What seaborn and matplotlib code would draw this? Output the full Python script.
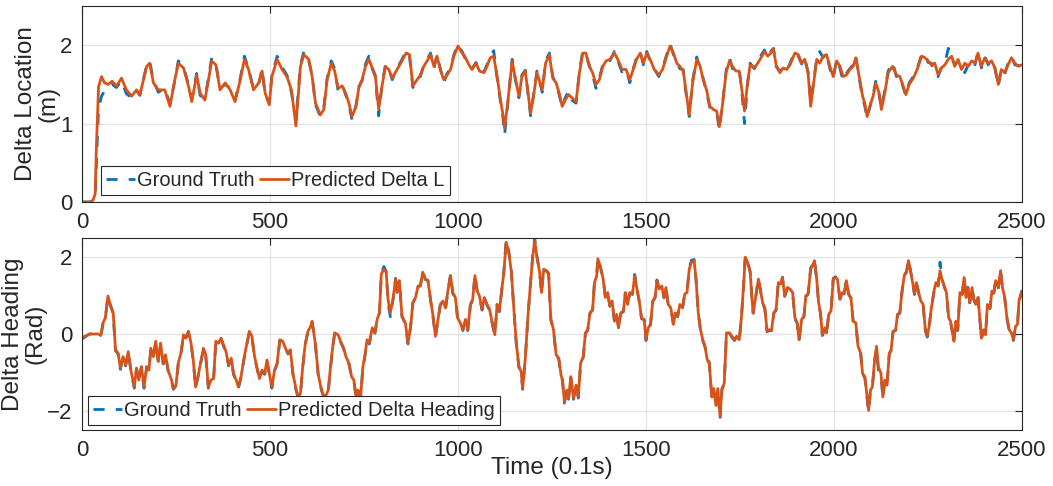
import numpy as np
import pandas as pd
import matplotlib
matplotlib.use("Agg")
import matplotlib.pyplot as plt
import seaborn as sns

# ---------------- data ----------------
loc_t = [0, 20, 29, 35, 38, 44, 52, 60, 70, 80, 92, 105, 118, 132, 145, 154, 172, 180, 190, 203,
         220, 234, 247, 256, 270, 283, 292, 305, 314, 327, 345, 356, 367, 381, 394, 407, 421, 432, 443, 456,
         470, 479, 487, 498, 505, 519, 532, 545, 557, 569, 581, 590, 603, 612, 621, 634, 643, 652, 663, 672,
         681, 692, 701, 710, 718, 729, 736, 745, 754, 763, 772, 780, 789, 798, 807, 816, 825, 838, 851, 862,
         871, 880, 891, 900, 909, 918, 927, 936, 944, 953, 962, 971, 980, 989, 1000, 1011, 1020, 1029, 1037, 1048,
         1057, 1069, 1077, 1086, 1095, 1104, 1113, 1119, 1124, 1133, 1144, 1153, 1162, 1170, 1179, 1193, 1202, 1210, 1224, 1233,
         1243, 1252, 1261, 1269, 1277, 1285, 1294, 1303, 1314, 1323, 1332, 1340, 1349, 1358, 1367, 1376, 1385, 1394, 1404, 1416,
         1425, 1436, 1447, 1457, 1466, 1475, 1485, 1493, 1502, 1511, 1522, 1534, 1544, 1555, 1564, 1573, 1582, 1590, 1599, 1606,
         1615, 1624, 1635, 1644, 1652, 1661, 1670, 1679, 1688, 1695, 1704, 1713, 1722, 1730, 1739, 1748, 1755, 1762, 1770, 1777,
         1788, 1797, 1806, 1815, 1824, 1832, 1839, 1846, 1856, 1865, 1874, 1883, 1896, 1905, 1914, 1922, 1931, 1938, 1945, 1954,
         1962, 1971, 1980, 1989, 1998, 2007, 2016, 2024, 2033, 2042, 2051, 2058, 2067, 2076, 2082, 2088, 2095, 2104, 2111, 2120,
         2126, 2135, 2144, 2156, 2166, 2175, 2184, 2191, 2200, 2211, 2221, 2233, 2242, 2250, 2259, 2268, 2277, 2286, 2295, 2304,
         2313, 2321, 2330, 2339, 2348, 2357, 2366, 2375, 2383, 2392, 2401, 2410, 2419, 2428, 2437, 2445, 2454, 2463, 2472, 2481,
         2490, 2500]
loc_pred = [0.00, 0.00, 0.02, 0.10, 0.66, 1.47, 1.60, 1.52, 1.50, 1.54, 1.48, 1.58, 1.43, 1.35, 1.43, 1.37, 1.73, 1.77, 1.52, 1.43,
            1.43, 1.22, 1.56, 1.77, 1.71, 1.48, 1.28, 1.62, 1.39, 1.30, 1.80, 1.75, 1.43, 1.52, 1.43, 1.28, 1.56, 1.82, 1.69, 1.43,
            1.52, 1.67, 1.39, 1.24, 1.60, 1.82, 1.69, 1.60, 1.43, 0.97, 1.73, 1.88, 1.82, 1.60, 1.26, 1.11, 1.18, 1.56, 1.77, 1.67,
            1.45, 1.48, 1.39, 1.26, 1.09, 1.22, 1.45, 1.56, 1.73, 1.82, 1.71, 1.62, 1.18, 1.48, 1.73, 1.69, 1.58, 1.69, 1.80, 1.90,
            1.88, 1.48, 1.56, 1.62, 1.73, 1.80, 1.88, 1.73, 1.86, 1.69, 1.56, 1.62, 1.69, 1.86, 1.99, 1.90, 1.84, 1.75, 1.69, 1.77,
            1.67, 1.65, 1.73, 1.84, 1.86, 1.60, 1.30, 1.13, 0.94, 1.30, 1.80, 1.56, 1.35, 1.60, 1.67, 1.13, 1.39, 1.65, 1.43, 1.77,
            1.88, 1.58, 1.52, 1.39, 1.22, 1.30, 1.37, 1.33, 1.28, 1.65, 1.90, 1.90, 1.73, 1.65, 1.50, 1.56, 1.73, 1.80, 1.82, 1.90,
            1.82, 1.69, 1.69, 1.56, 1.69, 1.82, 1.90, 1.77, 1.90, 1.82, 1.69, 1.62, 1.69, 1.86, 1.99, 1.90, 1.77, 1.73, 1.67, 1.43,
            1.11, 1.52, 1.82, 1.73, 1.56, 1.43, 1.22, 1.18, 1.16, 0.96, 1.26, 1.65, 1.80, 1.73, 1.67, 1.67, 1.43, 1.16, 1.52, 1.75,
            1.71, 1.77, 1.84, 1.92, 1.86, 1.90, 1.95, 1.75, 1.65, 1.71, 1.69, 1.75, 1.90, 1.88, 1.77, 1.82, 1.65, 1.22, 1.48, 1.82,
            1.77, 1.86, 1.88, 1.73, 1.60, 1.80, 1.73, 1.60, 1.62, 1.69, 1.73, 1.84, 1.60, 1.35, 1.26, 1.09, 1.22, 1.35, 1.52, 1.39,
            1.18, 1.39, 1.65, 1.73, 1.62, 1.60, 1.48, 1.37, 1.50, 1.58, 1.69, 1.86, 1.84, 1.80, 1.75, 1.77, 1.62, 1.71, 1.75, 1.82,
            1.86, 1.73, 1.82, 1.69, 1.77, 1.73, 1.80, 1.77, 1.90, 1.73, 1.84, 1.77, 1.80, 1.71, 1.50, 1.69, 1.65, 1.75, 1.84, 1.77,
            1.73, 1.75]
loc_gt = [0.00, 0.00, 0.00, 0.05, 0.45, 1.20, 1.35, 1.42, 1.45, 1.50, 1.46, 1.55, 1.38, 1.33, 1.42, 1.36, 1.75, 1.80, 1.55, 1.40,
          1.45, 1.25, 1.55, 1.80, 1.73, 1.50, 1.32, 1.64, 1.36, 1.32, 1.84, 1.77, 1.45, 1.50, 1.45, 1.30, 1.58, 1.86, 1.70, 1.45,
          1.50, 1.70, 1.37, 1.26, 1.62, 1.86, 1.72, 1.62, 1.40, 1.05, 1.75, 1.92, 1.80, 1.62, 1.24, 1.09, 1.20, 1.58, 1.80, 1.70,
          1.42, 1.50, 1.37, 1.24, 1.05, 1.24, 1.47, 1.55, 1.76, 1.86, 1.70, 1.60, 1.10, 1.50, 1.75, 1.70, 1.56, 1.70, 1.82, 1.93,
          1.86, 1.46, 1.58, 1.60, 1.75, 1.82, 1.90, 1.70, 1.88, 1.70, 1.52, 1.64, 1.70, 1.88, 2.01, 1.92, 1.82, 1.77, 1.70, 1.78,
          1.65, 1.66, 1.75, 1.86, 1.93, 1.58, 1.28, 1.10, 0.86, 1.28, 1.82, 1.55, 1.33, 1.62, 1.68, 1.10, 1.40, 1.67, 1.40, 1.80,
          1.90, 1.60, 1.50, 1.37, 1.20, 1.33, 1.41, 1.30, 1.26, 1.67, 1.93, 1.88, 1.75, 1.62, 1.45, 1.58, 1.75, 1.82, 1.80, 1.92,
          1.80, 1.66, 1.70, 1.52, 1.70, 1.84, 1.92, 1.75, 1.92, 1.80, 1.70, 1.60, 1.71, 1.88, 2.02, 1.88, 1.78, 1.70, 1.69, 1.40,
          1.09, 1.55, 1.85, 1.70, 1.58, 1.40, 1.20, 1.16, 1.14, 0.92, 1.28, 1.67, 1.84, 1.70, 1.65, 1.69, 1.40, 1.00, 1.50, 1.77,
          1.70, 1.79, 1.87, 1.94, 1.84, 1.92, 1.96, 1.73, 1.66, 1.72, 1.67, 1.77, 1.92, 1.86, 1.76, 1.84, 1.66, 1.28, 1.50, 1.84,
          1.92, 1.84, 1.90, 1.70, 1.58, 1.82, 1.70, 1.55, 1.64, 1.70, 1.75, 1.86, 1.58, 1.33, 1.22, 1.07, 1.20, 1.37, 1.54, 1.37,
          1.20, 1.42, 1.67, 1.78, 1.60, 1.62, 1.46, 1.36, 1.52, 1.60, 1.70, 1.88, 1.90, 1.78, 1.77, 1.62, 1.60, 1.73, 1.77, 1.96,
          1.84, 1.75, 1.80, 1.71, 1.65, 1.75, 1.82, 1.75, 1.92, 1.71, 1.86, 1.75, 1.82, 1.70, 1.48, 1.70, 1.63, 1.77, 1.86, 1.75,
          1.74, 1.76]

head_t = [0, 12, 20, 43, 50, 56, 62, 69, 76, 83, 89, 96, 102, 109, 116, 123, 130, 139, 145, 151,
          158, 165, 172, 178, 183, 190, 196, 203, 209, 216, 222, 229, 238, 243, 250, 256, 263, 270, 276, 283,
          290, 296, 302, 310, 316, 323, 329, 336, 343, 350, 356, 363, 370, 376, 383, 390, 397, 403, 410, 416,
          423, 430, 437, 445, 452, 459, 465, 472, 479, 486, 492, 498, 505, 512, 519, 526, 534, 541, 548, 554,
          561, 568, 575, 581, 587, 594, 601, 608, 612, 621, 628, 634, 640, 647, 655, 661, 667, 672, 681, 690,
          696, 702, 710, 717, 723, 729, 734, 741, 747, 752, 758, 764, 772, 779, 785, 791, 796, 803, 809, 814,
          820, 827, 834, 838, 844, 851, 860, 867, 874, 880, 887, 894, 900, 906, 913, 920, 927, 933, 940, 947,
          953, 960, 967, 973, 980, 986, 993, 999, 1006, 1013, 1020, 1026, 1033, 1039, 1045, 1051, 1057, 1064, 1070, 1077,
          1084, 1091, 1098, 1104, 1110, 1116, 1122, 1128, 1135, 1142, 1148, 1155, 1162, 1168, 1172, 1179, 1186, 1193, 1199, 1204,
          1210, 1217, 1222, 1228, 1234, 1241, 1247, 1254, 1261, 1268, 1274, 1278, 1283, 1289, 1294, 1300, 1307, 1314, 1320, 1326,
          1333, 1339, 1345, 1351, 1358, 1363, 1369, 1372, 1380, 1386, 1392, 1398, 1404, 1410, 1416, 1422, 1427, 1433, 1440, 1445,
          1451, 1457, 1464, 1470, 1476, 1482, 1488, 1495, 1500, 1506, 1512, 1518, 1524, 1529, 1535, 1542, 1548, 1553, 1559, 1566,
          1573, 1578, 1584, 1590, 1597, 1603, 1609, 1615, 1621, 1628, 1633, 1639, 1645, 1651, 1657, 1663, 1668, 1675, 1680, 1686,
          1691, 1697, 1702, 1708, 1714, 1722, 1728, 1735, 1741, 1748, 1754, 1760, 1764, 1770, 1777, 1782, 1785, 1792, 1799, 1804,
          1810, 1816, 1822, 1828, 1834, 1840, 1846, 1852, 1858, 1863, 1869, 1876, 1883, 1890, 1896, 1902, 1907, 1914, 1920, 1925,
          1931, 1938, 1943, 1948, 1954, 1959, 1964, 1969, 1976, 1980, 1986, 1992, 1998, 2004, 2009, 2016, 2022, 2027, 2033, 2039,
          2045, 2051, 2058, 2064, 2071, 2076, 2082, 2086, 2092, 2097, 2102, 2108, 2113, 2118, 2125, 2130, 2135, 2141, 2147, 2152,
          2157, 2164, 2169, 2175, 2181, 2187, 2193, 2198, 2204, 2209, 2214, 2219, 2226, 2231, 2237, 2243, 2248, 2253, 2259, 2266,
          2271, 2277, 2282, 2288, 2293, 2299, 2305, 2310, 2315, 2319, 2324, 2329, 2335, 2341, 2346, 2351, 2356, 2361, 2367, 2372,
          2377, 2383, 2388, 2392, 2398, 2403, 2408, 2415, 2420, 2425, 2430, 2437, 2443, 2448, 2454, 2460, 2466, 2472, 2477, 2483,
          2488, 2492, 2500]
head_pred = [-0.10, -0.04, 0.00, 0.00, -0.04, 0.29, 0.42, 0.99, 0.73, 0.55, -0.41, -0.50, -0.89, -0.59, -0.81, -0.46, -0.94, -1.38, -0.89, -1.20,
             -0.85, -1.38, -0.85, -0.94, -0.37, -0.59, -0.19, -0.72, -0.24, -0.76, -0.54, -0.94, -1.20, -1.42, -1.33, -0.76, -0.50, -0.02, -0.11, 0.07,
             -0.24, -0.68, -1.38, -1.03, -0.72, -0.37, -0.54, -1.38, -1.20, -1.16, -0.19, -0.24, -0.11, -0.28, -0.46, -0.81, -0.63, -1.03, -1.20, -1.38,
             -1.11, -0.68, -0.32, 0.07, -0.06, -0.59, -0.85, -1.16, -0.94, -1.03, -0.68, -1.03, -1.38, -0.94, -0.76, -0.15, -0.19, -0.37, -0.50, -0.41,
             -1.03, -1.38, -1.64, -1.55, -0.85, -0.24, 0.07, 0.20, 0.33, -0.28, -1.03, -1.33, -1.55, -1.64, -1.46, -0.85, -0.32, 0.03, -0.02, -0.24,
             -0.37, -0.59, -0.76, -1.11, -1.20, -1.64, -1.46, -1.64, -0.85, -0.59, -0.15, -0.24, 0.16, 0.03, 0.38, 0.55, 1.56, 1.69, 1.61, 0.90,
             0.55, 0.90, 1.43, 1.08, 1.39, 0.46, 0.29, -0.24, 0.20, 0.82, 0.95, 1.25, 1.25, 1.61, 1.43, 1.39, 0.90, 0.51, -0.06, 0.38,
             0.77, 0.86, 0.68, 1.12, 1.52, 1.08, 0.95, 0.42, 0.29, 0.11, 0.38, 0.11, 0.77, 0.90, 1.52, 1.12, 0.99, 0.64, 0.95, 0.77,
             0.64, 0.29, -0.02, 0.77, 0.60, 1.12, 1.61, 2.39, 2.13, 1.61, 0.73, -0.24, -0.85, -0.98, -1.42, -0.63, 0.46, 1.34, 2.04, 2.44,
             2.00, 1.61, 1.08, 1.69, 1.65, 1.56, 0.38, 0.11, -0.54, -0.63, -1.07, -1.20, -1.77, -1.46, -1.68, -1.11, -1.68, -1.33, -1.64, -0.76,
             -0.59, 0.03, 0.11, 0.55, 0.64, 1.34, 1.52, 1.96, 1.69, 1.43, 0.95, 1.08, 0.73, 0.86, 0.33, 0.51, 0.16, 0.55, 0.60, 1.08,
             0.77, 1.08, 1.04, 1.52, 1.17, 0.86, 0.42, 0.38, -0.15, 0.16, 0.25, 0.86, 0.95, 1.39, 1.17, 1.25, 0.95, 1.21, 0.77, 0.68,
             0.25, 0.55, 0.46, 0.77, 0.68, 1.04, 1.08, 1.69, 1.87, 1.91, 1.43, 0.55, 0.11, -0.15, -0.32, -0.68, -0.72, -1.64, -1.42, -1.86,
             -1.42, -2.15, -1.42, -1.29, 0.03, 0.03, -0.06, -0.15, -0.06, -0.15, 0.46, 1.34, 2.00, 1.87, 1.61, 0.90, 0.55, 0.99, 1.43, 1.17,
             0.82, 0.68, 0.07, 0.11, 0.11, 0.55, 0.64, 1.34, 1.30, 1.47, 0.99, 1.21, 1.17, 1.08, 0.42, 0.29, -0.15, 0.38, 0.46, 0.99,
             1.04, 1.69, 1.78, 1.91, 1.43, 0.82, 0.55, -0.02, 0.16, 0.03, 0.51, 0.60, 1.43, 1.47, 1.43, 0.90, 1.08, 1.04, 1.39, 1.04,
             0.95, 0.33, 0.29, -0.32, -0.50, -1.03, -1.11, -1.46, -1.99, -1.46, -1.38, -0.68, -0.32, -0.85, -1.03, -1.64, -1.20, -1.33, -0.50, -0.41,
             0.07, 0.11, 0.51, 0.55, 1.12, 1.52, 1.61, 1.91, 1.61, 1.34, 1.04, 1.34, 1.04, 0.86, 0.77, 0.11, -0.06, 0.20, 0.68, 1.12,
             1.34, 1.25, 1.65, 1.39, 1.25, 1.08, 0.42, 0.33, 0.03, -0.19, 0.33, 0.11, 1.08, 1.04, 1.47, 0.95, 1.21, 0.82, 1.21, 0.90,
             0.77, 0.95, 0.38, -0.11, 0.11, -0.02, 0.77, 0.68, 1.12, 1.08, 1.39, 1.21, 1.65, 1.21, 0.95, 0.42, 0.11, 0.03, -0.15, 0.20,
             0.25, 0.86, 1.12]
head_gt = [-0.13, -0.05, 0.00, 0.00, -0.05, 0.27, 0.40, 0.97, 0.74, 0.53, -0.43, -0.52, -0.92, -0.60, -0.83, -0.47, -0.96, -1.41, -0.90, -1.22,
           -0.86, -1.41, -0.86, -0.96, -0.39, -0.60, -0.20, -0.74, -0.26, -0.78, -0.55, -0.96, -1.22, -1.44, -1.35, -0.78, -0.52, -0.04, -0.12, 0.06,
           -0.26, -0.70, -1.41, -1.05, -0.74, -0.39, -0.56, -1.41, -1.22, -1.18, -0.21, -0.26, -0.12, -0.30, -0.48, -0.83, -0.65, -1.05, -1.22, -1.41,
           -1.13, -0.70, -0.34, 0.06, -0.08, -0.61, -0.87, -1.18, -0.96, -1.05, -0.70, -1.05, -1.41, -0.96, -0.78, -0.17, -0.20, -0.39, -0.52, -0.43,
           -1.05, -1.41, -1.67, -1.57, -0.87, -0.26, 0.06, 0.19, 0.32, -0.30, -1.05, -1.35, -1.57, -1.67, -1.48, -0.87, -0.34, 0.02, -0.04, -0.26,
           -0.39, -0.61, -0.78, -1.13, -1.22, -1.67, -1.48, -1.67, -0.87, -0.61, -0.17, -0.26, 0.15, 0.02, 0.37, 0.54, 1.58, 1.76, 1.63, 0.80,
           0.45, 0.88, 1.45, 1.06, 1.41, 0.45, 0.28, -0.26, 0.19, 0.81, 0.94, 1.24, 1.26, 1.63, 1.42, 1.40, 0.88, 0.49, -0.08, 0.37,
           0.76, 0.85, 0.66, 1.11, 1.55, 1.06, 0.94, 0.40, 0.28, 0.09, 0.37, 0.09, 0.76, 0.88, 1.56, 1.11, 0.98, 0.62, 0.94, 0.76,
           0.62, 0.28, -0.04, 0.76, 0.58, 1.11, 1.63, 2.45, 2.15, 1.63, 0.72, -0.26, -0.87, -1.00, -1.44, -0.65, 0.45, 1.35, 2.08, 2.50,
           2.02, 1.63, 1.06, 1.70, 1.67, 1.58, 0.37, 0.09, -0.56, -0.65, -1.09, -1.22, -1.80, -1.48, -1.70, -1.13, -1.70, -1.35, -1.67, -0.78,
           -0.61, 0.02, 0.09, 0.54, 0.62, 1.36, 1.54, 2.00, 1.70, 1.45, 0.94, 1.06, 0.72, 0.85, 0.32, 0.50, 0.15, 0.54, 0.58, 1.06,
           0.76, 1.06, 1.03, 1.55, 1.16, 0.85, 0.40, 0.37, -0.17, 0.15, 0.24, 0.85, 0.94, 1.41, 1.16, 1.24, 0.94, 1.22, 0.76, 0.66,
           0.24, 0.54, 0.45, 0.76, 0.66, 1.03, 1.06, 1.72, 1.92, 1.94, 1.42, 0.54, 0.09, -0.17, -0.34, -0.70, -0.74, -1.67, -1.44, -1.88,
           -1.44, -2.21, -1.44, -1.31, 0.02, 0.02, -0.08, -0.17, -0.08, -0.17, 0.45, 1.36, 2.03, 1.90, 1.63, 0.88, 0.54, 0.98, 1.45, 1.16,
           0.81, 0.66, 0.06, 0.09, 0.09, 0.54, 0.62, 1.36, 1.28, 1.48, 0.98, 1.20, 1.16, 1.06, 0.40, 0.28, -0.17, 0.37, 0.45, 0.98,
           1.03, 1.72, 1.80, 1.94, 1.42, 0.81, 0.54, -0.04, 0.15, 0.02, 0.50, 0.58, 1.45, 1.49, 1.42, 0.88, 1.06, 1.03, 1.40, 1.03,
           0.94, 0.32, 0.28, -0.34, -0.52, -1.05, -1.13, -1.48, -2.02, -1.48, -1.40, -0.70, -0.40, -0.94, -1.05, -1.68, -1.22, -1.35, -0.52, -0.43,
           0.06, 0.09, 0.50, 0.54, 1.11, 1.54, 1.63, 1.94, 1.63, 1.35, 1.03, 1.35, 1.03, 0.85, 0.76, 0.09, -0.08, 0.19, 0.66, 1.11,
           1.36, 1.26, 1.87, 1.41, 1.24, 1.06, 0.40, 0.32, 0.02, -0.21, 0.32, 0.09, 1.09, 1.03, 1.50, 0.94, 1.22, 0.81, 1.22, 0.88,
           0.76, 0.98, 0.37, -0.13, 0.09, -0.04, 0.76, 0.66, 1.11, 1.06, 1.40, 1.20, 1.67, 1.20, 0.94, 0.40, 0.09, 0.02, -0.17, 0.19,
           0.24, 0.85, 1.14]

x_ticks = [0, 500, 1000, 1500, 2000, 2500]
loc_yticks = [0, 1, 2]
head_yticks = [-2, 0, 2]

BLUE = "#0072BD"
ORANGE = "#D95319"

# ---------------- style ----------------
sns.set_style("white")
plt.rcParams["font.family"] = ["Liberation Sans", "DejaVu Sans"]

fig = plt.figure(figsize=(10.53, 4.86), dpi=100)
ax1 = fig.add_axes([82 / 1053, 1 - 202 / 486, 940 / 1053, 196 / 486])
ax2 = fig.add_axes([82 / 1053, 1 - 430 / 486, 940 / 1053, 192 / 486])

df_loc = pd.DataFrame({"t": loc_t, "gt": loc_gt, "pred": loc_pred})
df_head = pd.DataFrame({"t": head_t, "gt": head_gt, "pred": head_pred})


def draw(ax, df, pred_label, ylim, yticks, ylabel, anchor):
    sns.lineplot(data=df, x="t", y="gt", ax=ax, color=BLUE, linewidth=2.0,
                 linestyle=(0, (4, 4)), label="Ground Truth")
    sns.lineplot(data=df, x="t", y="pred", ax=ax, color=ORANGE, linewidth=2.0,
                 label=pred_label)
    ax.set_xlim(0, 2500)
    ax.set_ylim(*ylim)
    ax.set_xticks(x_ticks)
    ax.set_yticks(yticks)
    ax.grid(True, color="#e3e3e3", linewidth=0.9)
    ax.set_axisbelow(True)
    for s in ax.spines.values():
        s.set_color("#262626")
        s.set_linewidth(0.8)
        s.set_visible(True)
    ax.tick_params(direction="in", length=5, width=0.8, top=True, right=True,
                   labelsize=16, colors="#262626", pad=7)
    ax.set_ylabel(ylabel, fontsize=17.5, color="#262626", linespacing=1.05, labelpad=0)
    ax.set_xlabel("")
    leg = ax.legend(loc="lower left", bbox_to_anchor=anchor, ncol=2, fontsize=14.4,
                    frameon=True, fancybox=False, edgecolor="#262626", framealpha=1,
                    borderpad=0.25, handlelength=1.45, handletextpad=0.12,
                    columnspacing=0.25, borderaxespad=0.0)
    leg.get_frame().set_linewidth(0.8)


draw(ax1, df_loc, "Predicted Delta L", (0, 2.5), loc_yticks,
     "Delta Location\n(m)", (19 / 940, 7 / 196))
draw(ax2, df_head, "Predicted Delta Heading", (-2.5, 2.5), head_yticks,
     "Delta Heading\n(Rad)", (6 / 940, 5 / 192))
ax2.set_xlabel("Time (0.1s)", fontsize=17.5, color="#262626", labelpad=-3)

fig.savefig("out.png", dpi=100)
